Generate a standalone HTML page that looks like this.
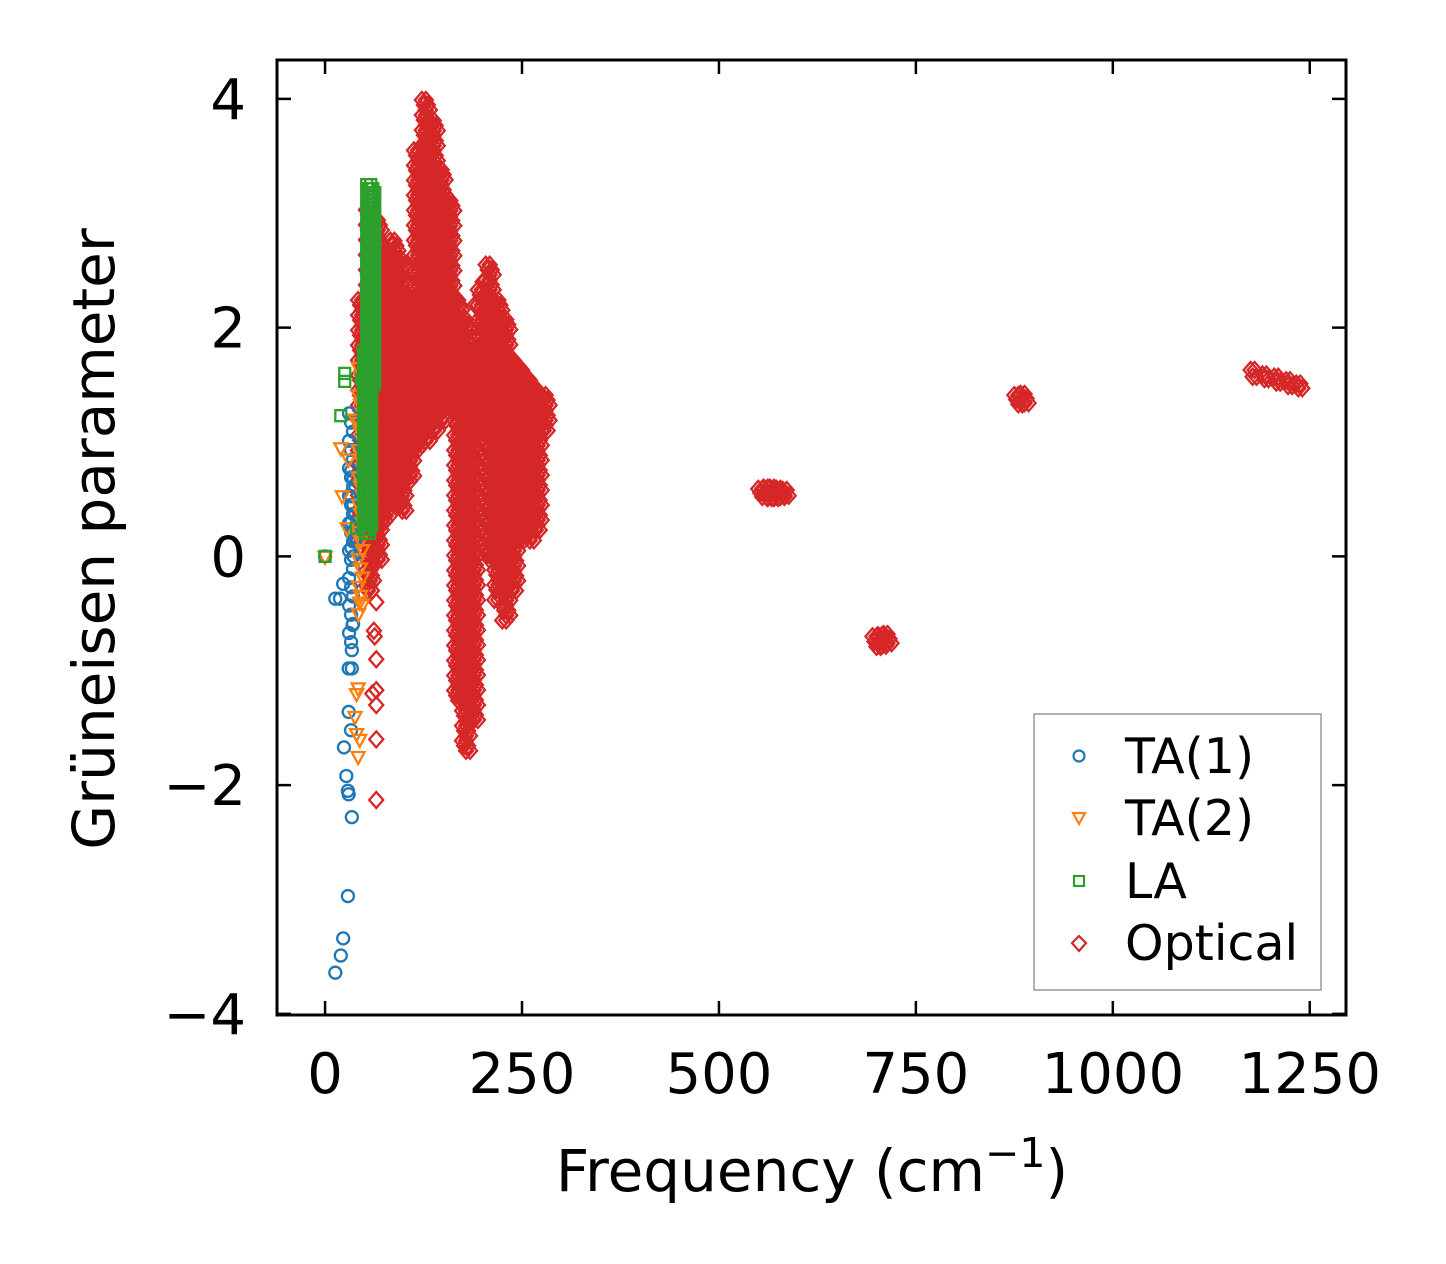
<!DOCTYPE html>
<html><head><meta charset="utf-8"><style>
html,body{margin:0;padding:0;background:#fff;}
svg{display:block;font-family:"DejaVu Sans","Liberation Sans",sans-serif;}
</style></head><body>
<svg id="chart" width="1446" height="1264" viewBox="0 0 1446 1264" xmlns="http://www.w3.org/2000/svg">
<rect width="1446" height="1264" fill="#fff"/>
<g id="marks"></g>
<g id="axes"></g>
<text x="812" y="1191" font-size="58" text-anchor="middle" fill="#000">Frequency (cm<tspan dy="-24" font-size="41">−1</tspan><tspan dy="24">)</tspan></text>
<text transform="translate(114,539) rotate(-90)" font-size="58" text-anchor="middle" fill="#000">Grüneisen parameter</text>
<g>
<rect x="1034" y="714" width="287" height="276" fill="#fff" stroke="#999" stroke-width="1.5"/>
<circle cx="1079" cy="756" r="5.5" fill="none" stroke="#1f77b4" stroke-width="2.2"/>
<text x="1125" y="773" font-size="49">TA(1)</text>
<path d="M1073,813 L1085,813 L1079,824 Z" fill="none" stroke="#ff7f0e" stroke-width="2.2"/>
<text x="1125" y="835" font-size="49">TA(2)</text>
<rect x="1074" y="876" width="10" height="10" fill="none" stroke="#2ca02c" stroke-width="2.2"/>
<text x="1125" y="898" font-size="49">LA</text>
<path d="M1079,936 L1086,943 L1079,951 L1072,943 Z" fill="none" stroke="#d62728" stroke-width="2.2"/>
<text x="1125" y="960" font-size="49">Optical</text>
</g>
</svg>
<script>
// ---- data ----
const xTicks=[0,250,500,750,1000,1250];
const xTickLabels=["0","250","500","750","1000","1250"];
const yTicks=[-4,-2,0,2,4];
const yTickLabels=["−4","−2","0","2","4"];
// optical dense bands: frequency, gamma low, gamma high
const optFreq=[47,57,67,77,88,98,108,118,128,138,148,159,169,179,189,199,209,220,230,240,250,260,270,280,555,562,570,578,586,700,707,714,880,888,1180,1195,1210,1225,1238];
const optLow =[0.14,-0.3,-0.03,0.31,0.49,0.40,0.66,0.93,1.01,1.10,1.19,1.36,-1.26,-1.70,-1.43,1.10,-0.03,-0.38,-0.56,-0.3,0.14,0.14,0.23,1.10,0.52,0.51,0.51,0.52,0.53,-0.79,-0.78,-0.76,1.33,1.34,1.57,1.55,1.52,1.49,1.47];
const optHigh=[2.24,3.03,2.94,2.68,2.76,2.59,2.24,3.55,3.99,3.81,3.38,3.11,2.24,2.07,1.80,2.33,2.55,2.24,2.07,1.71,1.63,1.54,1.45,1.41,0.59,0.60,0.60,0.59,0.58,-0.70,-0.69,-0.68,1.41,1.42,1.63,1.59,1.57,1.54,1.51];
const optPtFreq=[65,62,65,65,65,65,65,63,60,268,190,200];
const optPtG=[-0.4,-0.65,-0.9,-1.17,-1.3,-1.6,-2.13,-0.7,-1.2,0.93,2.2,2.4];
// TA(1)
const ta1Freq=[33,36];
const ta1Low=[-0.75,0.0];
const ta1High=[1.25,0.75];
const ta1PtFreq=[29,23,20,13,34,29,30,27,24,33,30,34,30,34,13,19,23,0,35];
const ta1PtG=[-2.97,-3.34,-3.49,-3.64,-2.28,-2.05,-2.08,-1.92,-1.67,-1.52,-1.36,-0.98,-0.98,-0.82,-0.37,-0.37,-0.24,0,-0.6];
// TA(2)
const ta2Freq=[45];
const ta2Low=[-0.5];
const ta2High=[1.65];
const ta2PtFreq=[40,42,38,40,44,42,20,22,30,28,44,0,38];
const ta2PtG=[-1.2,-1.15,-1.4,-1.55,-1.6,-1.75,0.95,0.53,0.85,0.25,-0.4,0,1.2];
// LA
const laFreq=[58,54];
const laLow=[1.5,0.2];
const laHigh=[3.25,1.8];
const laPtFreq=[25,25,20,46,52,52,0,40];
const laPtG=[1.6,1.53,1.23,1.55,1.1,0.75,0,0.25];

// ---- axes functions ----
const L=277,R=1346,T=60,B=1015;
const xmin=-61,xmax=1296,ymin=-4.01,ymax=4.34;
const X=v=>L+(v-xmin)/(xmax-xmin)*(R-L);
const Y=v=>B-(v-ymin)/(ymax-ymin)*(B-T);
const NS="http://www.w3.org/2000/svg";
const marks=document.getElementById('marks');
const axes=document.getElementById('axes');
function mk(tag,attrs,parent){const e=document.createElementNS(NS,tag);for(const k in attrs)e.setAttribute(k,attrs[k]);parent.appendChild(e);return e;}

function marker(kind,x,y,color,name){
  let e;
  if(kind==='circle') e=mk('circle',{cx:x,cy:y,r:6,fill:'none',stroke:color,'stroke-width':2.3},marks);
  else if(kind==='tri') e=mk('path',{d:`M${x-6.5},${y-4.5} L${x+6.5},${y-4.5} L${x},${y+7.5} Z`,fill:'none',stroke:color,'stroke-width':2.3},marks);
  else if(kind==='square') e=mk('rect',{x:x-5.5,y:y-5.5,width:11,height:11,fill:'none',stroke:color,'stroke-width':2.3},marks);
  else e=mk('path',{d:`M${x},${y-8} L${x+7},${y} L${x},${y+8} L${x-7},${y} Z`,fill:'none',stroke:color,'stroke-width':2.3},marks);
  
  
}
function series(kind,color,name,fr,lo,hi,pf,pg,spread,step){
  for(let i=0;i<fr.length;i++){
    const y0=Y(hi[i]),y1=Y(lo[i]);
    const n=Math.max(1,Math.round((y1-y0)/step));
    for(let j=0;j<=n;j++){
      const y=y0+(y1-y0)*j/n;
      for(let k=-spread;k<=spread;k+=4) marker(kind,X(fr[i])+k+((j%3)-1)*2,y,color,name);
    }
  }
  for(let i=0;i<pf.length;i++) marker(kind,X(pf[i]),Y(pg[i]),color,name);
}
series('diamond','#d62728','optical-point',optFreq,optLow,optHigh,optPtFreq,optPtG,2,5);
series('circle','#1f77b4','ta1-point',ta1Freq,ta1Low,ta1High,ta1PtFreq,ta1PtG,0,9);
series('tri','#ff7f0e','ta2-point',ta2Freq,ta2Low,ta2High,ta2PtFreq,ta2PtG,0,9);
series('square','#2ca02c','la-point',laFreq,laLow,laHigh,laPtFreq,laPtG,2,4);

// frame
const fr=mk('rect',{x:L,y:T,width:R-L,height:B-T,fill:'none',stroke:'#000','stroke-width':3},axes);


xTicks.forEach((v,i)=>{
  const x=X(v);
  const t1=mk('line',{x1:x,y1:B,x2:x,y2:B-14,stroke:'#000','stroke-width':2.5},axes);
  
  
  const t2=mk('line',{x1:x,y1:T,x2:x,y2:T+14,stroke:'#000','stroke-width':2.5},axes);
  
  
  const lb=mk('text',{x:x,y:1093,'font-size':56,'text-anchor':'middle',fill:'#000'},axes);
  lb.textContent=xTickLabels[i];
  
  
});
yTicks.forEach((v,i)=>{
  const y=Y(v);
  const t1=mk('line',{x1:L,y1:y,x2:L+14,y2:y,stroke:'#000','stroke-width':2.5},axes);
  
  
  const t2=mk('line',{x1:R,y1:y,x2:R-14,y2:y,stroke:'#000','stroke-width':2.5},axes);
  
  
  const lb=mk('text',{x:246,y:y+20,'font-size':56,'text-anchor':'end',fill:'#000'},axes);
  lb.textContent=yTickLabels[i];
  
  
});
</script>
</body></html>
